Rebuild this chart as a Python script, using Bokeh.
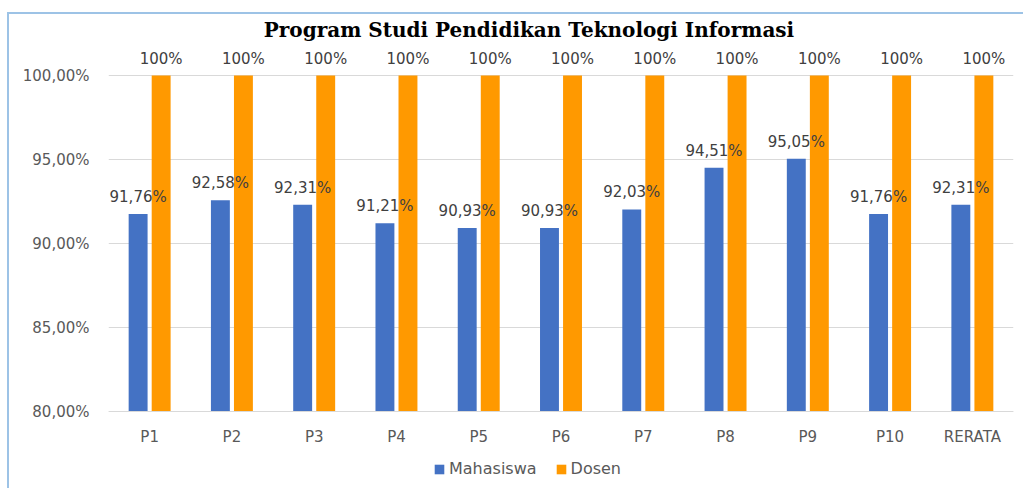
from bokeh.plotting import figure
from bokeh.models import ColumnDataSource, FactorRange, FixedTicker, CustomJSTickFormatter, Legend, LegendItem, Range1d, Span
from bokeh.transform import dodge
from bokeh.core.properties import value
from bokeh.embed import file_html
from bokeh.resources import INLINE

categories = ["P1", "P2", "P3", "P4", "P5", "P6", "P7", "P8", "P9", "P10", "RERATA"]
mahasiswa = [91.76, 92.58, 92.31, 91.21, 90.93, 90.93, 92.03, 94.51, 95.05, 91.76, 92.31]
dosen = [100, 100, 100, 100, 100, 100, 100, 100, 100, 100, 100]
y_ticks = [80, 85, 90, 95, 100]
title_text = "Program Studi Pendidikan Teknologi Informasi"
AXIS_MIN = 80

src = ColumnDataSource(dict(
    cat=categories,
    mhs=mahasiswa,
    dsn=dosen,
    mhs_lbl=[("%.2f" % v).replace(".", ",") + "%" for v in mahasiswa],
    dsn_lbl=["%d%%" % v for v in dosen],
    base=[AXIS_MIN] * len(categories),
))

p = figure(x_range=FactorRange(*categories), y_range=Range1d(75.298, 103.631),
           width=1016, height=476, output_backend="svg", toolbar_location=None,
           x_axis_location=None,
           min_border_left=99, min_border_right=12, min_border_top=0, min_border_bottom=0,
           styles={"border-left": "2px solid #9dc3e6", "border-top": "2px solid #9dc3e6",
                   "margin-left": "7px", "margin-top": "12px"})
p.outline_line_color = None

BLUE = "#4472C4"
ORANGE = "#FF9900"
r1 = p.vbar(x=dodge("cat", -0.14, range=p.x_range), top="mhs", bottom="base", width=0.23,
            source=src, fill_color=BLUE, line_color=None)
r2 = p.vbar(x=dodge("cat", 0.14, range=p.x_range), top="dsn", bottom="base", width=0.23,
            source=src, fill_color=ORANGE, line_color=None)

lbl_font = value("DejaVu Sans")
p.text(x=dodge("cat", -0.14, range=p.x_range), y="mhs", text="mhs_lbl", source=src,
       text_align="center", text_baseline="bottom", y_offset=-8,
       text_font=lbl_font, text_font_size="15px", text_color="#404040")
p.text(x=dodge("cat", 0.14, range=p.x_range), y="dsn", text="dsn_lbl", source=src,
       text_align="center", text_baseline="bottom", y_offset=-8,
       text_font=lbl_font, text_font_size="15px", text_color="#404040")

# category labels (x axis)
p.text(x="cat", y="base", text="cat", source=src, text_align="center", text_baseline="middle",
       y_offset=25, text_font=lbl_font, text_font_size="15px", text_color="#595959")
p.add_layout(Span(location=AXIS_MIN, dimension="width", line_color="#d9d9d9", line_width=1))

# title
p.text(x=["P6"], y=[102.68], text=[title_text], text_align="center", text_baseline="middle",
       x_offset=-32, text_font=value("DejaVu Serif"), text_font_style="bold",
       text_font_size="20px", text_color="#000000")

p.yaxis.ticker = FixedTicker(ticks=y_ticks)
p.yaxis.formatter = CustomJSTickFormatter(code="return tick.toFixed(2).replace('.', ',') + '%';")
p.yaxis.axis_line_color = None
p.yaxis.major_tick_line_color = None
p.yaxis.minor_tick_line_color = None
p.yaxis.major_label_standoff = 13
p.yaxis.major_label_text_font = "DejaVu Sans"
p.yaxis.major_label_text_font_size = "15px"
p.yaxis.major_label_text_color = "#595959"

p.xgrid.grid_line_color = None
p.ygrid.grid_line_color = "#d9d9d9"
p.ygrid.ticker = FixedTicker(ticks=y_ticks)

legend = Legend(items=[LegendItem(label="Mahasiswa", renderers=[r1]),
                       LegendItem(label="Dosen", renderers=[r2])],
                orientation="horizontal", location=(325, 12),
                label_text_font="DejaVu Sans", label_text_font_size="16px",
                label_text_color="#595959", glyph_width=12, glyph_height=12,
                spacing=18, padding=0, margin=0, border_line_color=None,
                background_fill_alpha=0, label_standoff=4)
p.add_layout(legend)

open("out.html", "w").write(file_html(p, INLINE))
